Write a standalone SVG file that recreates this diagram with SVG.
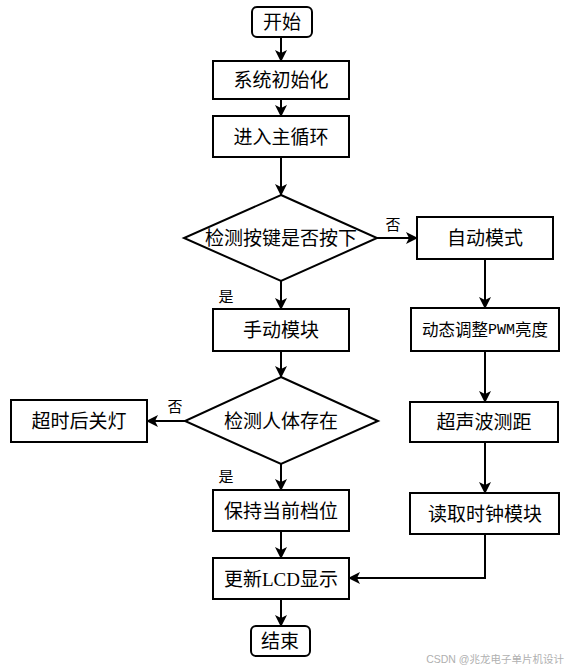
<svg xmlns="http://www.w3.org/2000/svg" width="570" height="670" viewBox="0 0 570 670">
<defs>
<style>
.box{fill:#fff;stroke:#000;stroke-width:2}
.t{font-family:"Liberation Serif","Noto Sans CJK SC",serif;font-size:19px;fill:#000;text-anchor:middle;dominant-baseline:central}
.lb{font-family:"Noto Sans CJK SC",sans-serif;font-size:15px;fill:#000;text-anchor:middle;dominant-baseline:central}
.c{fill:none;stroke:#000;stroke-width:2}
.wm{font-family:"Liberation Sans","Noto Sans CJK SC",sans-serif;font-size:10.5px;fill:#b0b0b0;text-anchor:end}
</style>
<marker id="ah" viewBox="0 0 12 12" markerWidth="12" markerHeight="12" refX="11" refY="6" orient="auto" markerUnits="userSpaceOnUse">
<path d="M0,0 L12,6 L0,12 L3,6 z" fill="#000"/>
</marker>
</defs>
<g id="connectors">
<line class="c" x1="281" y1="37" x2="281" y2="61" marker-end="url(#ah)"/>
<line class="c" x1="281" y1="99" x2="281" y2="116" marker-end="url(#ah)"/>
<line class="c" x1="281" y1="157" x2="281" y2="195" marker-end="url(#ah)"/>
<line class="c" x1="377" y1="238" x2="417" y2="238" marker-end="url(#ah)"/>
<line class="c" x1="281" y1="281" x2="281" y2="309" marker-end="url(#ah)"/>
<line class="c" x1="485" y1="259" x2="485" y2="308" marker-end="url(#ah)"/>
<line class="c" x1="281" y1="351" x2="281" y2="377" marker-end="url(#ah)"/>
<line class="c" x1="485" y1="351" x2="485" y2="402" marker-end="url(#ah)"/>
<line class="c" x1="185" y1="421" x2="147" y2="421" marker-end="url(#ah)"/>
<line class="c" x1="281" y1="464" x2="281" y2="490" marker-end="url(#ah)"/>
<line class="c" x1="485" y1="442" x2="485" y2="493" marker-end="url(#ah)"/>
<line class="c" x1="281" y1="531" x2="281" y2="558" marker-end="url(#ah)"/>
<polyline class="c" points="485,534 485,578 349,578" marker-end="url(#ah)"/>
<line class="c" x1="281" y1="599" x2="281" y2="626" marker-end="url(#ah)"/>
<text class="lb" x="393" y="223">否</text>
<text class="lb" x="226" y="295">是</text>
<text class="lb" x="175" y="405">否</text>
<text class="lb" x="226" y="475">是</text>
</g>
<g id="start"><rect class="box" x="252" y="7" width="60" height="30" rx="5"/><text class="t" x="282" y="22">开始</text></g>
<g id="init"><rect class="box" x="213" y="61" width="136" height="38"/><text class="t" x="281" y="80">系统初始化</text></g>
<g id="loop"><rect class="box" x="213" y="116" width="136" height="41"/><text class="t" x="281" y="137">进入主循环</text></g>
<g id="dec1"><polygon class="box" points="281,195 377,238 281,281 184,238"/><text class="t" x="281" y="238">检测按键是否按下</text></g>
<g id="auto"><rect class="box" x="417" y="217" width="136" height="42"/><text class="t" x="485" y="238">自动模式</text></g>
<g id="manual"><rect class="box" x="213" y="309" width="136" height="42"/><text class="t" x="281" y="330">手动模块</text></g>
<g id="pwm"><rect class="box" x="411" y="308" width="148" height="43"/><text class="t" x="485" y="330" style="font-size:16.5px">动态调整<tspan style="font-family:'Liberation Mono',monospace;font-size:15px">PWM</tspan>亮度</text></g>
<g id="dec2"><polygon class="box" points="281,377 378,421 281,464 185,421"/><text class="t" x="281" y="421">检测人体存在</text></g>
<g id="off"><rect class="box" x="11" y="400" width="136" height="42"/><text class="t" x="79" y="421">超时后关灯</text></g>
<g id="ultra"><rect class="box" x="410" y="402" width="148" height="40"/><text class="t" x="484" y="422">超声波测距</text></g>
<g id="keep"><rect class="box" x="213" y="490" width="136" height="41"/><text class="t" x="281" y="511">保持当前档位</text></g>
<g id="clock"><rect class="box" x="410" y="493" width="149" height="41"/><text class="t" x="485" y="514">读取时钟模块</text></g>
<g id="lcd"><rect class="box" x="213" y="558" width="136" height="41"/><text class="t" x="281" y="579">更新LCD显示</text></g>
<g id="end"><rect class="box" x="251" y="626" width="59" height="30" rx="5"/><text class="t" x="280" y="641">结束</text></g>
<text class="wm" x="564" y="663">CSDN @兆龙电子单片机设计</text>
</svg>
